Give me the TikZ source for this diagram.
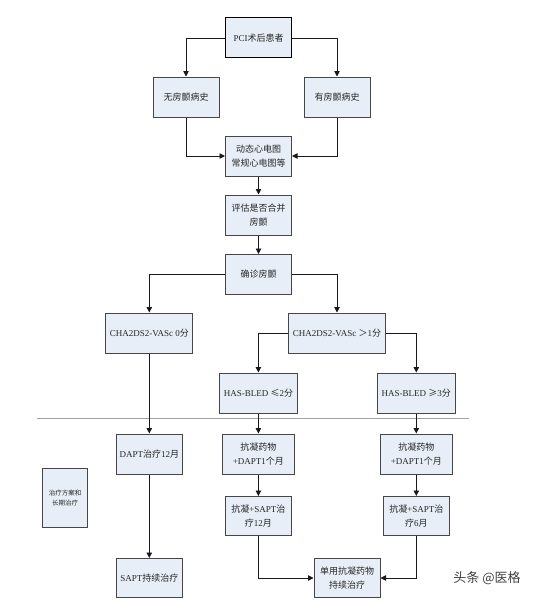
\documentclass[tikz,border=0pt]{standalone}
\usepackage{fontspec}
\setmainfont{Liberation Serif}
\newfontfamily\cjk{Noto Sans CJK SC}
\newcommand\zh[1]{{\cjk #1}}
\usetikzlibrary{arrows.meta}
\definecolor{boxfill}{RGB}{232,238,247}
\definecolor{boxline}{RGB}{70,70,70}
\definecolor{conn}{RGB}{25,25,25}
\definecolor{sepline}{RGB}{160,160,160}
\tikzset{
  flowbox/.style={draw=boxline, line width=1pt, fill=boxfill, minimum width=66pt,
    minimum height=40pt, inner sep=1pt, align=center, font=\fontsize{9}{13.5}\selectfont,
    text=black!85},
  arr/.style={draw=conn, line width=0.9pt, -{Triangle[length=5.5pt,width=5.5pt]}},
  plain/.style={draw=conn, line width=0.9pt}
}
\begin{document}
\begin{tikzpicture}[x=1pt,y=-1pt]
\useasboundingbox (0,0) rectangle (533,602);
% main column
\node[flowbox, draw=black] (pci) at (258.5,38) {PCI\zh{术后患者}};
\node[flowbox] (no) at (186,97) {\zh{无房颤病史}};
\node[flowbox] (yes) at (337,97) {\zh{有房颤病史}};
\node[flowbox] (ecg) at (258.5,156) {\zh{动态心电图}\\\zh{常规心电图等}};
\node[flowbox] (eval) at (258.5,215) {\zh{评估是否合并}\\\zh{房颤}};
\node[flowbox] (diag) at (258.5,274.5) {\zh{确诊房颤}};
\node[flowbox, minimum width=87pt] (cha0) at (149.3,333) {CHA2DS2-VASc 0\zh{分}};
\node[flowbox, minimum width=97pt] (cha1) at (337,333) {CHA2DS2-VASc \zh{＞}1\zh{分}};
\node[flowbox, minimum width=78pt] (has2) at (258.4,393) {HAS-BLED \zh{≤}2\zh{分}};
\node[flowbox, minimum width=78pt] (has3) at (416.3,393) {HAS-BLED \zh{≥}3\zh{分}};
% separator
\draw[sepline, line width=1.8pt] (37,418.5) -- (469,418.5);
% treatment part
\node[flowbox] (dapt) at (149.3,454) {DAPT\zh{治疗}12\zh{月}};
\node[flowbox, minimum width=72pt] (ac1) at (258.4,454) {\zh{抗凝药物}\\+DAPT1\zh{个月}};
\node[flowbox, minimum width=72pt] (ac2) at (416.3,454) {\zh{抗凝药物}\\+DAPT1\zh{个月}};
\node[flowbox, minimum height=39pt] (sapt12) at (258.4,516) {\zh{抗凝}+SAPT\zh{治}\\\zh{疗}12\zh{月}};
\node[flowbox, minimum height=39pt] (sapt6) at (416.3,516) {\zh{抗凝}+SAPT\zh{治}\\\zh{疗}6\zh{月}};
\node[flowbox, minimum height=39pt] (saptc) at (149.3,578) {SAPT\zh{持续治疗}};
\node[flowbox, minimum height=39pt] (mono) at (347,578) {\zh{单用抗凝药物}\\\zh{持续治疗}};
\node[flowbox, minimum width=45pt, minimum height=59pt, font=\fontsize{6.5}{10}\selectfont] (plan) at (65,498) {\zh{治疗方案和}\\\zh{长期治疗}};
% watermark
\node[text=black!75, font=\cjk\fontsize{13}{14}\selectfont, inner sep=0pt] (wm) at (487,578) {头条 @医格};
% connectors
\draw[arr] (pci.west) -| (no.north);
\draw[arr] (pci.east) -| (yes.north);
\draw[arr] (no.south) |- (ecg.west);
\draw[arr] (yes.south) |- (ecg.east);
\draw[arr] (ecg.south) -- (eval.north);
\draw[arr] (eval.south) -- (diag.north);
\draw[arr] (diag.west) -| (cha0.north);
\draw[arr] (diag.east) -| (cha1.north);
\draw[arr] (cha1.west) -| (has2.north);
\draw[arr] (cha1.east) -| (has3.north);
\draw[arr] (cha0.south) -- (dapt.north);
\draw[arr] (has2.south) -- (ac1.north);
\draw[arr] (has3.south) -- (ac2.north);
\draw[arr] (dapt.south) -- (saptc.north);
\draw[arr] (ac1.south) -- (sapt12.north);
\draw[arr] (ac2.south) -- (sapt6.north);
\draw[arr] (sapt12.south) |- (mono.west);
\draw[arr] (sapt6.south) |- (mono.east);
\end{tikzpicture}
\end{document}
